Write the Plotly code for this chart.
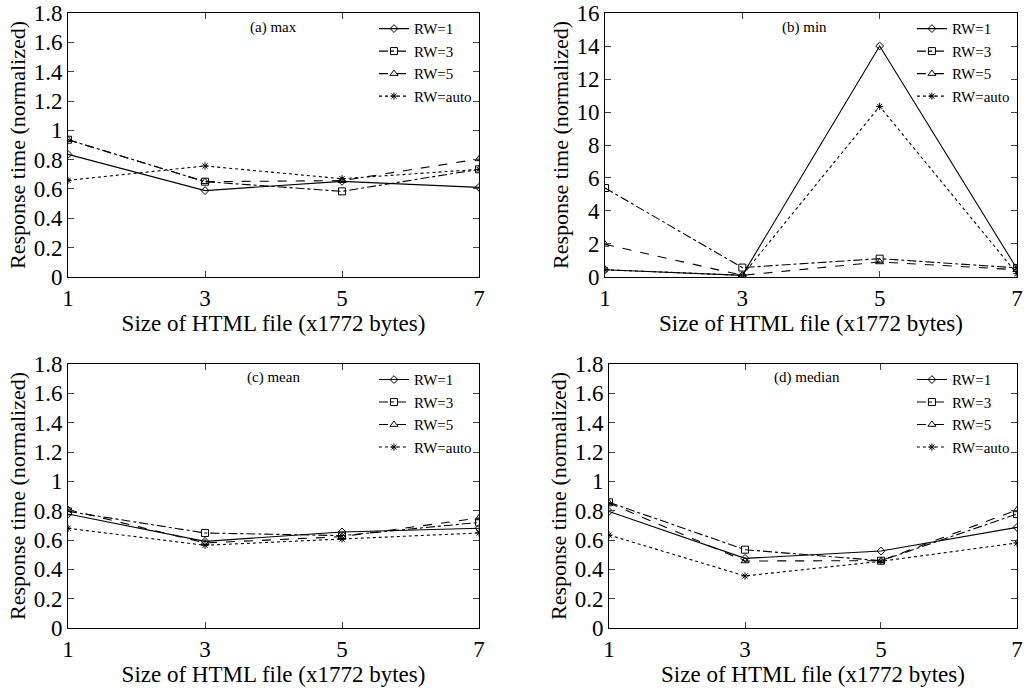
import plotly.graph_objects as go

# ---- data ----
sizes = [1, 3, 5, 7]
series_names = ["RW=1", "RW=3", "RW=5", "RW=auto"]

max_rw1 = [0.836, 0.589, 0.652, 0.611]
max_rw3 = [0.936, 0.650, 0.584, 0.734]
max_rw5 = [0.936, 0.650, 0.657, 0.805]
max_auto = [0.659, 0.757, 0.670, 0.734]

min_rw1 = [0.44, 0.10, 14.0, 0.50]
min_rw3 = [5.39, 0.57, 1.11, 0.55]
min_rw5 = [1.98, 0.10, 0.91, 0.44]
min_auto = [0.44, 0.10, 10.34, 0.20]

mean_rw1 = [0.777, 0.591, 0.655, 0.680]
mean_rw3 = [0.795, 0.648, 0.630, 0.720]
mean_rw5 = [0.807, 0.580, 0.623, 0.750]
mean_auto = [0.680, 0.564, 0.607, 0.648]

median_rw1 = [0.795, 0.475, 0.525, 0.686]
median_rw3 = [0.857, 0.534, 0.459, 0.777]
median_rw5 = [0.852, 0.457, 0.459, 0.805]
median_auto = [0.634, 0.355, 0.455, 0.580]

panel_titles = ["(a) max", "(b) min", "(c) mean", "(d) median"]
x_title = "Size of HTML file (x1772 bytes)"
y_title = "Response time (normalized)"
x_ticks = [1, 3, 5, 7]
y_ticks_small = [0, 0.2, 0.4, 0.6, 0.8, 1, 1.2, 1.4, 1.6, 1.8]
y_ticks_small_text = ["0", "0.2", "0.4", "0.6", "0.8", "1", "1.2", "1.4", "1.6", "1.8"]
y_ticks_big = [0, 2, 4, 6, 8, 10, 12, 14, 16]

panels = [
    [max_rw1, max_rw3, max_rw5, max_auto],
    [min_rw1, min_rw3, min_rw5, min_auto],
    [mean_rw1, mean_rw3, mean_rw5, mean_auto],
    [median_rw1, median_rw3, median_rw5, median_auto],
]

# ---- styles ----
FONT = "Liberation Serif"
styles = [
    dict(dash="solid", symbol="diamond-open", size=6),
    dict(dash="dashdot", symbol="square-open", size=7),
    dict(dash="dash", symbol="triangle-up-open", size=7),
    dict(dash="3px,3px", symbol="asterisk-open", size=6),
]

x_domains = [(0.0663, 0.4669), (0.5897, 0.9912), (0.0663, 0.4669), (0.5936, 0.9912)]
y_domains = [(0.598, 0.9811), (0.598, 0.9811), (0.0885, 0.4717), (0.0885, 0.4717)]

fig = go.Figure()
for p, data in enumerate(panels):
    ax = "" if p == 0 else str(p + 1)
    leg = "legend" if p == 0 else "legend" + str(p + 1)
    for s, vals in enumerate(data):
        st = styles[s]
        fig.add_trace(go.Scatter(
            x=sizes, y=vals, name=series_names[s],
            xaxis="x" + ax, yaxis="y" + ax, legend=leg,
            mode="lines+markers",
            line=dict(color="black", width=1.1, dash=st["dash"]),
            marker=dict(symbol=st["symbol"], size=st["size"], color="black",
                        line=dict(color="black", width=1)),
        ))

layout = dict(
    width=1026, height=689,
    margin=dict(l=0, r=0, t=0, b=0),
    paper_bgcolor="white", plot_bgcolor="white",
    font=dict(family=FONT, color="black", size=23),
    annotations=[],
)

for p in range(4):
    ax = "" if p == 0 else str(p + 1)
    big = (p == 1)
    layout["xaxis" + ax] = dict(
        domain=list(x_domains[p]), anchor="y" + ax,
        range=[1, 7], tickvals=x_ticks, ticks="inside", ticklen=6,
        mirror="ticks", showline=True, linecolor="black", linewidth=1,
        showgrid=False, zeroline=False, automargin=False,
        tickfont=dict(size=23, family=FONT),
        title=dict(text=x_title, font=dict(size=23, family=FONT), standoff=2),
    )
    layout["yaxis" + ax] = dict(
        domain=list(y_domains[p]), anchor="x" + ax,
        range=[0, 16] if big else [0, 1.8],
        tickvals=y_ticks_big if big else y_ticks_small,
        ticktext=None if big else y_ticks_small_text,
        ticks="inside", ticklen=6,
        mirror="ticks", showline=True, linecolor="black", linewidth=1,
        showgrid=False, zeroline=False, automargin=False,
        tickfont=dict(size=23, family=FONT),
        title=dict(text=y_title, font=dict(size=22, family=FONT), standoff=1),
    )
    leg = "legend" if p == 0 else "legend" + str(p + 1)
    layout[leg] = dict(
        x=x_domains[p][1] - 0.002, y=y_domains[p][1] + 0.001,
        xanchor="right", yanchor="top",
        xref="paper", yref="paper",
        bgcolor="rgba(0,0,0,0)", borderwidth=0,
        font=dict(size=15, family=FONT), tracegroupgap=0,
        itemwidth=30,
    )
    layout["annotations"].append(dict(
        text=panel_titles[p], xref="x" + ax + " domain", yref="y" + ax + " domain",
        x=0.5 if p in (0, 2) else 0.485, y=1, yshift=-14, showarrow=False,
        xanchor="center", yanchor="middle", font=dict(size=15, family=FONT),
    ))

fig.update_layout(**layout)
fig.write_html("out.html", config={"displayModeBar": False},
               post_script="document.body.style.margin='0px';")
